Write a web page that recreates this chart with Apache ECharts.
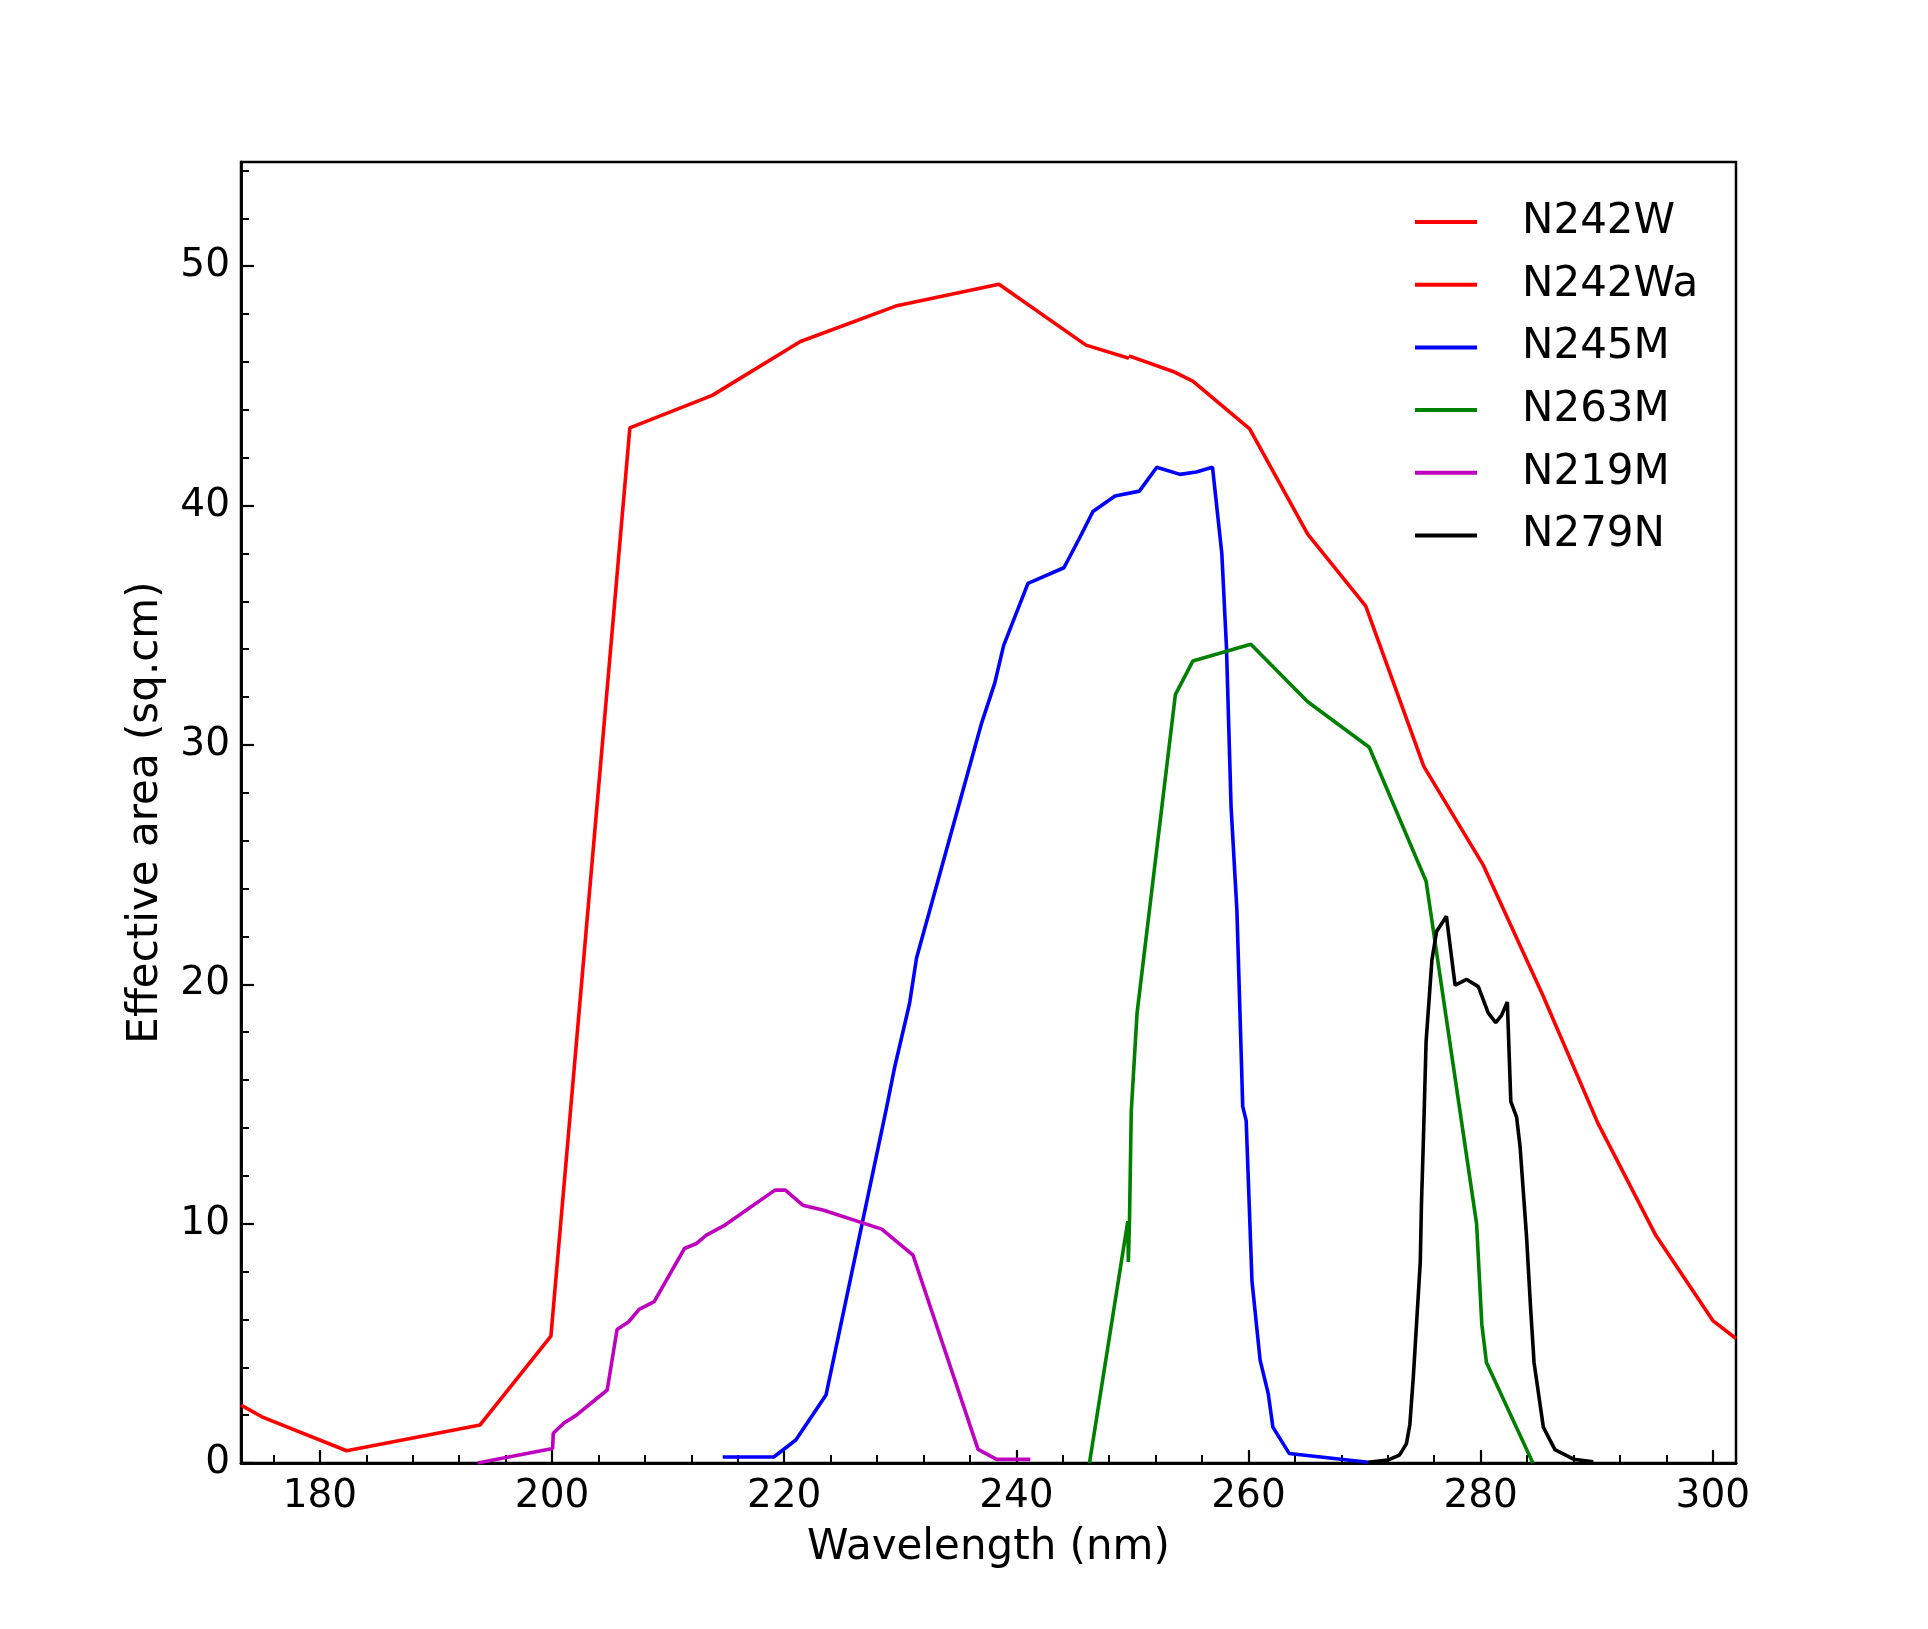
<!DOCTYPE html>
<html>
<head>
<meta charset="utf-8">
<script src="https://cdn.jsdelivr.net/npm/echarts@6/dist/echarts.min.js"></script>
<style>
  html, body { margin: 0; padding: 0; background: #fff; }
  #chart { width: 1928px; height: 1629px; }
</style>
</head>
<body>
<div id="chart"></div>
<script>
// effective area curves, [wavelength nm, area sq.cm]
var N242W = [[173.2, 2.42], [175.0, 1.93], [182.3, 0.51], [193.8, 1.59], [199.9, 5.3], [206.7, 43.24], [213.8, 44.6], [221.4, 46.85], [229.6, 48.33], [238.5, 49.24], [246.0, 46.7], [249.7, 46.15]];
var N242Wa = [[249.7, 46.25], [253.5, 45.6], [255.2, 45.2], [260.1, 43.2], [265.1, 38.8], [270.1, 35.8], [275.1, 29.1], [280.2, 25.0], [285.3, 19.6], [290.1, 14.2], [295.1, 9.5], [300.0, 5.95], [302.0, 5.2]];
var N245M = [[214.7, 0.25], [219.1, 0.25], [221.0, 0.96], [223.6, 2.84], [228.8, 14.8], [229.5, 16.5], [230.8, 19.2], [231.4, 21.1], [237.0, 30.9], [238.15, 32.6], [238.9, 34.15], [241.0, 36.75], [244.1, 37.4], [245.4, 38.6], [246.6, 39.75], [248.5, 40.4], [250.6, 40.6], [252.1, 41.6], [254.1, 41.3], [255.5, 41.4], [256.9, 41.6], [257.7, 38.0], [258.1, 34.1], [258.5, 27.4], [259.0, 23.1], [259.4, 16.6], [259.5, 14.9], [259.8, 14.3], [260.3, 7.6], [261.0, 4.3], [261.7, 2.9], [262.1, 1.5], [263.5, 0.4], [270.3, 0.03]];
var N263M = [[246.3, 0], [249.6, 10.1], [249.65, 8.4], [249.75, 10.2], [249.9, 14.7], [250.4, 18.8], [253.7, 32.1], [255.2, 33.5], [260.2, 34.2], [265.1, 31.8], [270.4, 29.9], [275.3, 24.3], [279.65, 10.0], [280.1, 5.8], [280.5, 4.2], [284.5, 0]];
var N219M = [[193.6, 0], [200.05, 0.61], [200.1, 1.24], [201.0, 1.66], [202.1, 2.0], [204.75, 3.05], [205.6, 5.58], [206.6, 5.9], [207.5, 6.42], [208.8, 6.74], [211.4, 8.96], [212.45, 9.17], [213.3, 9.52], [214.9, 9.94], [219.2, 11.4], [220.1, 11.4], [221.6, 10.77], [223.4, 10.56], [228.4, 9.77], [231.1, 8.68], [236.7, 0.57], [238.3, 0.15], [241.2, 0.15]];
var N279N = [[270.3, 0.03], [272.0, 0.12], [273.0, 0.33], [273.6, 0.8], [273.9, 1.6], [274.2, 3.6], [274.5, 6.0], [274.8, 8.4], [274.9, 10.8], [275.05, 13.2], [275.3, 17.6], [275.8, 21.0], [276.2, 22.2], [277.05, 22.84], [277.8, 19.96], [278.8, 20.2], [279.8, 19.9], [280.65, 18.8], [281.3, 18.4], [281.8, 18.7], [282.3, 19.26], [282.6, 15.1], [283.1, 14.45], [283.4, 13.2], [283.95, 9.5], [284.3, 6.5], [284.6, 4.2], [285.4, 1.5], [286.4, 0.56], [288.0, 0.16], [289.7, 0.05]];

var seriesNames = ["N242W", "N242Wa", "N245M", "N263M", "N219M", "N279N"];
var seriesColors = ["#ff0000", "#ff0000", "#0000ff", "#008000", "#bf00bf", "#000000"];

// tick positions
var xMajorTicks = [180, 200, 220, 240, 260, 280, 300];
var xMinorTicks = [176, 184, 188, 192, 196, 204, 208, 212, 216, 224, 228, 232, 236, 244, 248, 252, 256, 264, 268, 272, 276, 284, 288, 292, 296];
var yMajorTicks = [0, 10, 20, 30, 40, 50];
var yMinorTicks = [2, 4, 6, 8, 12, 14, 16, 18, 22, 24, 26, 28, 32, 34, 36, 38, 42, 44, 46, 48, 52, 54];

var FONT = "DejaVu Sans";
var X_MIN = 173.2, X_MAX = 302, Y_MIN = 0, Y_MAX = 54.35;

var chart = echarts.init(document.getElementById("chart"));

function baseAxis(min, max) {
  return {
    type: "value",
    min: min,
    max: max,
    splitLine: { show: false },
    axisLine: { show: true, onZero: false, lineStyle: { color: "#000", width: 2.5 } }
  };
}

var xMinor = baseAxis(X_MIN, X_MAX);
xMinor.position = "bottom";
xMinor.axisTick = { inside: true, length: 8, customValues: xMinorTicks, lineStyle: { color: "#000", width: 2 } };
xMinor.axisLabel = { show: false };

var xMajor = baseAxis(X_MIN, X_MAX);
xMajor.position = "bottom";
xMajor.axisTick = { inside: true, length: 13, customValues: xMajorTicks, lineStyle: { color: "#000", width: 2.2 } };
xMajor.axisLabel = { customValues: xMajorTicks, color: "#000", fontSize: 39, fontFamily: FONT, margin: 14 };
xMajor.name = "Wavelength (nm)";
xMajor.nameLocation = "middle";
xMajor.nameGap = 64;
xMajor.nameTextStyle = { color: "#000", fontSize: 42, fontFamily: FONT };

var yMinor = baseAxis(Y_MIN, Y_MAX);
yMinor.position = "left";
yMinor.axisTick = { inside: true, length: 8, customValues: yMinorTicks, lineStyle: { color: "#000", width: 2 } };
yMinor.axisLabel = { show: false };

var yMajor = baseAxis(Y_MIN, Y_MAX);
yMajor.position = "left";
yMajor.axisTick = { inside: true, length: 13, customValues: yMajorTicks, lineStyle: { color: "#000", width: 2.2 } };
yMajor.axisLabel = { customValues: yMajorTicks, color: "#000", fontSize: 39, fontFamily: FONT, margin: 11 };
yMajor.name = "Effective area (sq.cm)";
yMajor.nameLocation = "middle";
yMajor.nameGap = 74;
yMajor.nameTextStyle = { color: "#000", fontSize: 42, fontFamily: FONT };

var allData = [N242W, N242Wa, N245M, N263M, N219M, N279N];
var series = [];
for (var i = 0; i < allData.length; i++) {
  series.push({
    name: seriesNames[i],
    type: "line",
    xAxisIndex: 0,
    yAxisIndex: 0,
    data: allData[i],
    showSymbol: false,
    symbol: "none",
    clip: true,
    lineStyle: { color: seriesColors[i], width: 3.6 },
    itemStyle: { color: seriesColors[i] },
    emphasis: { disabled: true }
  });
}

chart.setOption({
  animation: false,
  backgroundColor: "#fff",
  textStyle: { fontFamily: FONT },
  grid: {
    left: 241, right: 192, top: 162, bottom: 166,
    show: true, borderColor: "#000", borderWidth: 2.5, backgroundColor: "transparent"
  },
  legend: {
    data: seriesNames,
    orient: "vertical",
    left: 1415,
    top: 200,
    padding: 0,
    icon: "rect",
    itemWidth: 62,
    itemHeight: 4,
    itemGap: 18.7,
    textStyle: { color: "#000", fontSize: 42, fontFamily: FONT, lineHeight: 44, padding: [0, 0, 0, 40] }
  },
  xAxis: [xMinor, xMajor],
  yAxis: [yMinor, yMajor],
  series: series
});
</script>
</body>
</html>
